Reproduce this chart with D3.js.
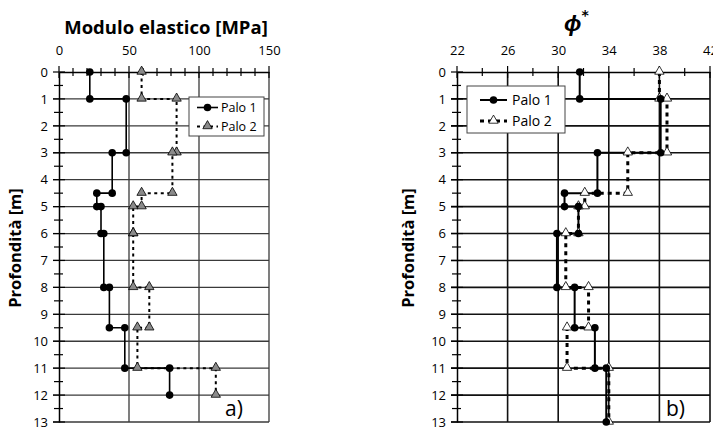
<!DOCTYPE html>
<html><head><meta charset="utf-8">
<script src="https://cdn.jsdelivr.net/npm/d3@7"></script>
<style>
html,body{margin:0;padding:0;background:#fff;}
svg{display:block;}
text{font-family:"Open Sans","Liberation Sans",sans-serif;}
</style></head>
<body>
<svg id="chart" width="713" height="431"></svg>
<script>
// ---------- data ----------
const depthTicks = [0,1,2,3,4,5,6,7,8,9,10,11,12,13];
const modTicks = [0,50,100,150];
const phiTicks = [22,26,30,34,38,42];
const seriesNames = ["Palo 1","Palo 2"];

// panel a) elastic modulus
const depthA = [0,1,1,3,3,4.5,4.5,5,5,6,6,8,8,9.5,9.5,11,11,12];
const palo1E = [22,22,48,48,38,38,27,27,30,30,32,32,36,36,47,47,79,79];
const palo2E = [59,59,84,84,81,81,59,59,53,53,53,53,64.5,64.5,56,56,112,112];

// panel b) friction angle
const depthB = [0,1,1,3,3,4.5,4.5,5,5,6,6,8,8,9.5,9.5,11,11,13];
const palo1Phi = [31.7,31.7,38.1,38.1,33.1,33.1,30.5,30.5,31.6,31.6,29.9,29.9,31.3,31.3,32.9,32.9,33.8,33.8];
const palo2Phi = [38,38,38.6,38.6,35.5,35.5,32.1,32.1,31.6,31.6,30.6,30.6,32.4,32.4,30.7,30.7,34,34];

const svg = d3.select("#chart");

function panel(cfg){
  const x = d3.scaleLinear().domain(cfg.xDomain).range(cfg.xRange);
  const y = d3.scaleLinear().domain([0,13]).range([72,422]);
  const g = svg.append("g");
  const x0 = cfg.xRange[0], x1 = cfg.xRange[1];

  // horizontal gridlines
  g.selectAll(".hg").data(depthTicks.slice(1)).join("line")
    .attr("x1", x0-6).attr("x2", x1).attr("y1", d=>y(d)).attr("y2", d=>y(d))
    .attr("stroke", cfg.gridColor).attr("stroke-width", cfg.gridWidth);
  // vertical gridlines
  g.selectAll(".vg").data(cfg.ticks.slice(1)).join("line")
    .attr("x1", d=>x(d)).attr("x2", d=>x(d)).attr("y1", y(0)).attr("y2", y(13))
    .attr("stroke", cfg.gridColor).attr("stroke-width", cfg.gridWidth);

  // top axis
  const xa = d3.axisTop(x).tickValues(cfg.ticks).tickSize(0).tickPadding(17).tickFormat(d3.format("d"));
  const xg = g.append("g").attr("transform", `translate(0,${y(0)})`).call(xa);
  xg.select(".domain").attr("stroke","#000").attr("stroke-width",1.5);
  xg.selectAll("text").attr("font-size",13).attr("fill","#000").attr("font-family","Open Sans");
  // ticks crossing top axis
  g.selectAll(".xt").data(d3.range(cfg.xDomain[0], cfg.xDomain[1]+1e-9, cfg.minorStep)).join("line")
    .attr("x1", d=>x(d)).attr("x2", d=>x(d))
    .attr("y1", d=> y(0) - (cfg.ticks.includes(+d.toFixed(6)) ? 6 : 4))
    .attr("y2", d=> y(0) + (cfg.ticks.includes(+d.toFixed(6)) ? 6 : 4))
    .attr("stroke","#000").attr("stroke-width",1.2);

  // left axis
  const ya = d3.axisLeft(y).tickValues(depthTicks).tickSize(0).tickPadding(11);
  const yg = g.append("g").attr("transform", `translate(${x0},0)`).call(ya);
  yg.select(".domain").attr("stroke","#000").attr("stroke-width",1.5);
  yg.selectAll("text").attr("font-size",13).attr("fill","#000").attr("font-family","Open Sans");
  g.selectAll(".yt").data(d3.range(0,13.01,0.5)).join("line")
    .attr("x1", d=> x0 - (d%1===0 ? 6 : 5)).attr("x2", d=> x0 + (d%1===0 ? 6 : 4))
    .attr("y1", d=>y(d)).attr("y2", d=>y(d))
    .attr("stroke","#000").attr("stroke-width",1.2);

  // series
  const line = d3.line().x(d=>x(d[1])).y(d=>y(d[0]));
  const p1 = cfg.depth.map((d,i)=>[d, cfg.s1[i]]);
  const p2 = cfg.depth.map((d,i)=>[d, cfg.s2[i]]);
  g.append("path").datum(p2).attr("d", line).attr("fill","none")
    .attr("stroke","#000").attr("stroke-width",cfg.dashWidth).attr("stroke-dasharray",cfg.dash);
  g.append("path").datum(p1).attr("d", line).attr("fill","none")
    .attr("stroke","#000").attr("stroke-width",cfg.solidWidth);
  const tri = d3.symbol().type(d3.symbolTriangle).size(38);
  g.selectAll(".t2").data(p2).join("path")
    .attr("d", tri).attr("transform", d=>`translate(${x(d[1])},${y(d[0])-0.5})`)
    .attr("fill", cfg.triFill).attr("stroke","#000").attr("stroke-width",0.8);
  g.selectAll(".c1").data(p1).join("circle")
    .attr("cx", d=>x(d[1])).attr("cy", d=>y(d[0])).attr("r",3.8).attr("fill","#000");

  // legend
  const L = cfg.legend;
  g.append("rect").attr("x",L.x).attr("y",L.y).attr("width",L.w).attr("height",L.h)
    .attr("fill","#fff").attr("stroke","#444").attr("stroke-width",1);
  seriesNames.forEach((name,i)=>{
    const ly = L.y + L.row0 + i*L.dy;
    const lg = g.append("g");
    if(i===0){
      lg.append("line").attr("x1",L.x+L.lx0).attr("x2",L.x+L.lx1).attr("y1",ly).attr("y2",ly)
        .attr("stroke","#000").attr("stroke-width",cfg.solidWidth);
      lg.append("circle").attr("cx",L.x+(L.lx0+L.lx1)/2).attr("cy",ly).attr("r",3.8).attr("fill","#000");
    } else {
      lg.append("line").attr("x1",L.x+L.lx0).attr("x2",L.x+L.lx1).attr("y1",ly).attr("y2",ly)
        .attr("stroke","#000").attr("stroke-width",cfg.dashWidth).attr("stroke-dasharray",cfg.dash);
      lg.append("path").attr("d",tri).attr("transform",`translate(${L.x+(L.lx0+L.lx1)/2},${ly-0.5})`)
        .attr("fill",cfg.triFill).attr("stroke","#000").attr("stroke-width",0.8);
    }
    lg.append("text").attr("x",L.x+L.tx).attr("y",ly).attr("dy","0.35em")
      .attr("font-size",cfg.legendFont).attr("fill","#000").text(name);
  });

  // y title
  g.append("text").attr("transform",`translate(${cfg.yTitleX},248) rotate(-90)`)
    .attr("text-anchor","middle").attr("font-weight","bold").attr("font-size",16.5)
    .attr("fill","#000").text("Profondità [m]");

  // panel label
  g.append("text").attr("x",cfg.labelX).attr("y",416)
    .attr("font-family","Liberation Serif,serif").attr("font-size",21).attr("fill","#000")
    .text(cfg.label);
  return {x,y,g};
}

panel({
  xDomain:[0,150], xRange:[59,269], ticks:modTicks, minorStep:10,
  depth:depthA, s1:palo1E, s2:palo2E,
  gridColor:"#3a3a3a", gridWidth:1.3, solidWidth:1.6, dashWidth:2, dash:"3,3.5",
  triFill:"#8a8a8a",
  legend:{x:189,y:97,w:75,h:39,row0:10.5,dy:19,lx0:8,lx1:29,tx:32},
  legendFont:12.5,
  yTitleX:21, label:"a)", labelX:225
});

panel({
  xDomain:[22,42], xRange:[457,710], ticks:phiTicks, minorStep:2,
  depth:depthB, s1:palo1Phi, s2:palo2Phi,
  gridColor:"#111", gridWidth:1.6, solidWidth:2, dashWidth:3, dash:"4,4",
  triFill:"#fff",
  legend:{x:467,y:86,w:98,h:47,row0:14,dy:21,lx0:13,lx1:40,tx:45},
  legendFont:14,
  yTitleX:414, label:"b)", labelX:666
});

// titles
svg.append("text").attr("x",166).attr("y",34).attr("text-anchor","middle")
  .attr("font-weight","bold").attr("font-size",18.5).attr("fill","#000")
  .text("Modulo elastico [MPa]");
const phiT = svg.append("text").attr("x",564).attr("y",31)
  .attr("font-family","DejaVu Serif,serif").attr("font-weight","bold").attr("font-style","italic")
  .attr("font-size",23).attr("fill","#000");
phiT.append("tspan").text("ϕ");
phiT.append("tspan").attr("dy",-11).attr("font-size",14).attr("font-family","DejaVu Sans").text("*");
</script>
</body></html>
